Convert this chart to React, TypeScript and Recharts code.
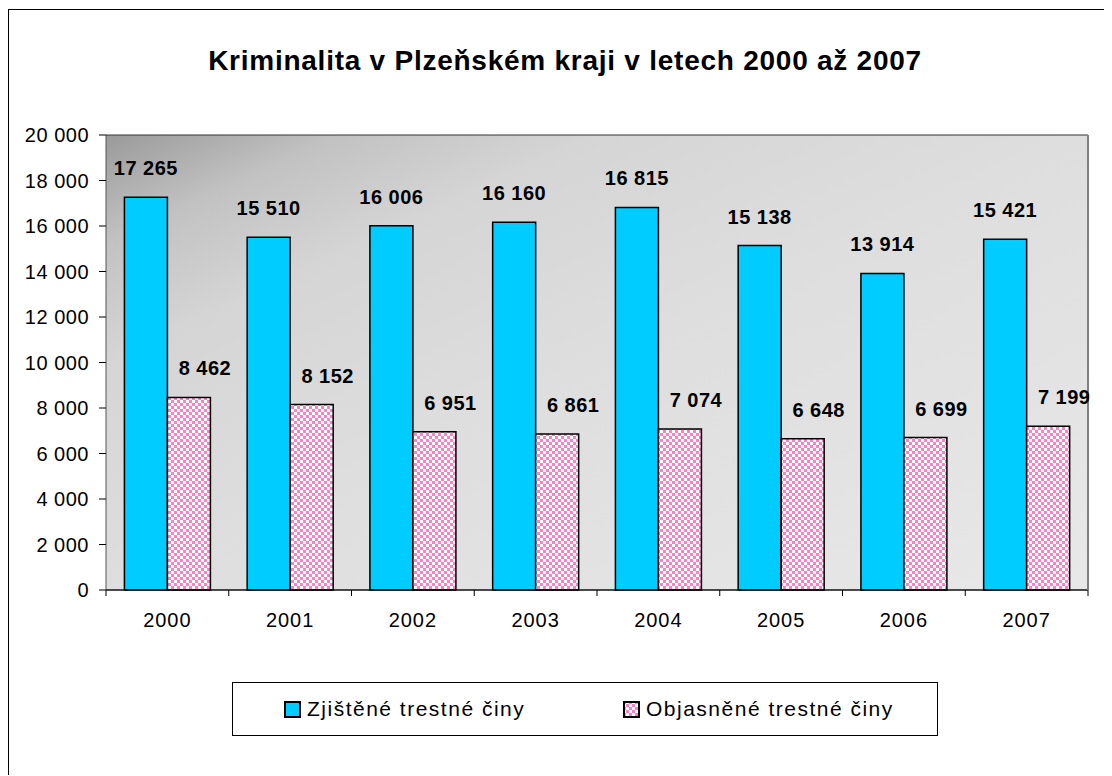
import React from 'react';
import { BarChart, Bar, XAxis, YAxis, CartesianGrid, LabelList } from 'recharts';

const years = ['2000', '2001', '2002', '2003', '2004', '2005', '2006', '2007'];
const detected = [17265, 15510, 16006, 16160, 16815, 15138, 13914, 15421];
const solved = [8462, 8152, 6951, 6861, 7074, 6648, 6699, 7199];
const yTicks = [0, 2000, 4000, 6000, 8000, 10000, 12000, 14000, 16000, 18000, 20000];

const seriesNames = ['Zjištěné trestné činy', 'Objasněné trestné činy'];
const title = 'Kriminalita v Plzeňském kraji v letech 2000 až 2007';

const data = years.map((year, i) => ({ year, detected: detected[i], solved: solved[i] }));

const FONT = '"Liberation Sans", Arial, sans-serif';
const BLUE = '#00ccff';
const PINK = '#ff7fc6';

const fmt = (v: number) => String(v).replace(/\B(?=(\d{3})+(?!\d))/g, ' ');

const XTick = (props: any) => {
  const { x, y, payload, index, visibleTicksCount } = props;
  const half = payload?.offset ?? 61.4;
  const left = x - half;
  const right = x + half;
  return (
    <g>
      <line x1={left} y1={y} x2={left} y2={y + 6} stroke="#000" />
      {index === visibleTicksCount - 1 && <line x1={right} y1={y} x2={right} y2={y + 6} stroke="#000" />}
      <text x={x} y={y + 37} textAnchor="middle" fontSize={20} letterSpacing={1} fontFamily={FONT} fill="#000">
        {payload.value}
      </text>
    </g>
  );
};

const makeLabel = (dx: number) => (props: any) => {
  const { x, y, width, value } = props;
  return (
    <text
      x={Number(x) + Number(width) / 2 + dx}
      y={Number(y) - 29 + 7}
      textAnchor="middle"
      fontSize={20}
      letterSpacing={0.5}
      fontWeight="bold"
      fontFamily={FONT}
      fill="#000"
    >
      {fmt(value)}
    </text>
  );
};

const Swatch = ({ kind }: { kind: 'blue' | 'pink' }) => (
  <svg width={17} height={17} style={{ display: 'block' }}>
    <defs>
      <pattern id="legendCheck" width={6} height={6} patternUnits="userSpaceOnUse">
        <rect width={6} height={6} fill="#fff" />
        <rect width={3} height={3} fill={PINK} />
        <rect x={3} y={3} width={3} height={3} fill={PINK} />
      </pattern>
    </defs>
    <rect x={1} y={1} width={15} height={15} fill={kind === 'blue' ? BLUE : 'url(#legendCheck)'} stroke="#000" strokeWidth={2} />
  </svg>
);

export default function App() {
  return (
    <div
      style={{
        position: 'relative',
        width: 1100,
        height: 765,
        borderLeft: '1px solid #000',
        borderTop: '1px solid #000',
        background: '#fff',
        fontFamily: FONT,
        marginTop: 1,
      }}
    >
      <div
        style={{
          position: 'absolute',
          left: 56,
          width: 1000,
          top: 36,
          textAlign: 'center',
          fontSize: 28,
          letterSpacing: 0.75,
          fontWeight: 'bold',
          lineHeight: '30px',
          color: '#000',
        }}
      >
        {title}
      </div>

      <BarChart
        width={1099}
        height={765}
        data={data}
        margin={{ top: 125, right: 0, bottom: 145, left: 0 }}
        barCategoryGap="15%"
        barGap={0}
      >
        <defs>
          <linearGradient id="plotBg" x1="0" y1="0" x2="1" y2="1">
            <stop offset="0" stopColor="#9a9a9a" />
            <stop offset="0.12" stopColor="#c2c2c2" />
            <stop offset="0.25" stopColor="#d5d5d5" />
            <stop offset="0.5" stopColor="#dedede" />
            <stop offset="1" stopColor="#e8e8e8" />
          </linearGradient>
          <pattern id="check" width={6} height={6} patternUnits="userSpaceOnUse">
            <rect width={6} height={6} fill="#fff" />
            <rect width={3} height={3} fill={PINK} />
            <rect x={3} y={3} width={3} height={3} fill={PINK} />
          </pattern>
        </defs>
        <CartesianGrid vertical={false} stroke="#333" fill="url(#plotBg)" fillOpacity={1} />
        <XAxis
          dataKey="year"
          axisLine={{ stroke: '#000' }}
          tickLine={false}
          tickSize={0}
          tickMargin={0}
          height={40}
          interval={0}
          tick={<XTick />}
        />
        <YAxis
          yAxisId="left"
          domain={[0, 20000]}
          ticks={yTicks}
          interval={0}
          width={97}
          tickFormatter={fmt}
          tickSize={7}
          tickMargin={10}
          axisLine={{ stroke: '#555' }}
          tickLine={{ stroke: '#000' }}
          tick={{ fill: '#000', fontSize: 20, letterSpacing: 0.5, fontFamily: FONT }}
        />
        <YAxis
          yAxisId="right"
          orientation="right"
          domain={[0, 20000]}
          width={20}
          tick={false}
          tickLine={false}
          axisLine={{ stroke: '#808080', strokeWidth: 2 }}
        />
        <Bar yAxisId="left" dataKey="detected" name={seriesNames[0]} fill={BLUE} stroke="#000" strokeWidth={1.5} isAnimationActive={false}>
          <LabelList dataKey="detected" content={makeLabel(0)} />
        </Bar>
        <Bar yAxisId="left" dataKey="solved" name={seriesNames[1]} fill="url(#check)" stroke="#000" strokeWidth={1.5} isAnimationActive={false}>
          <LabelList dataKey="solved" content={makeLabel(16)} />
        </Bar>
      </BarChart>

      <div
        style={{
          position: 'absolute',
          left: 223,
          top: 672,
          width: 704,
          height: 52,
          border: '1px solid #000',
          boxSizing: 'content-box',
          background: '#fff',
        }}
      >
        <div style={{ position: 'absolute', left: 51, top: 16, display: 'flex', alignItems: 'center' }}>
          <Swatch kind="blue" />
          <span style={{ marginLeft: 6, fontSize: 21, letterSpacing: 1.5, lineHeight: '20px' }}>{seriesNames[0]}</span>
        </div>
        <div style={{ position: 'absolute', left: 390, top: 16, display: 'flex', alignItems: 'center' }}>
          <Swatch kind="pink" />
          <span style={{ marginLeft: 6, fontSize: 21, letterSpacing: 1.5, lineHeight: '20px' }}>{seriesNames[1]}</span>
        </div>
      </div>
    </div>
  );
}
